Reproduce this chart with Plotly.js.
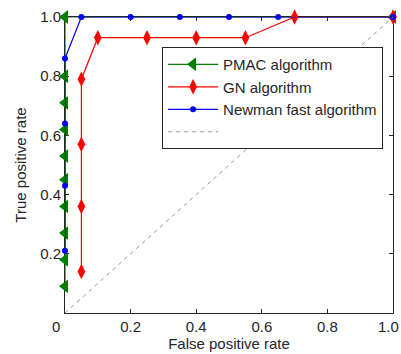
<!DOCTYPE html>
<html><head><meta charset="utf-8">
<script src="https://cdn.plot.ly/plotly-3.0.1.min.js"></script>
<style>html,body{margin:0;padding:0;background:#fff}#c{width:401px;height:354px}</style>
</head><body><div id="c"></div>
<script>
const pmacX = [0, 0, 0, 0, 0, 0, 0, 0, 0, 0, 1.0];
const pmacY = [0.09, 0.18, 0.27, 0.36, 0.45, 0.53, 0.62, 0.71, 0.80, 1.0, 1.0];
const gnX = [0.05, 0.05, 0.05, 0.05, 0.10, 0.25, 0.40, 0.55, 0.70, 1.0];
const gnY = [0.14, 0.36, 0.57, 0.79, 0.93, 0.93, 0.93, 0.93, 1.0, 1.0];
const nfX = [0, 0, 0, 0, 0.05, 0.20, 0.35, 0.50, 0.65, 1.0];
const nfY = [0.21, 0.43, 0.64, 0.86, 1.0, 1.0, 1.0, 1.0, 1.0, 1.0];
const diagX = [0, 1];
const diagY = [0, 1];
const names = ['PMAC algorithm', 'GN algorithm', 'Newman fast algorithm', ' '];
const tickVals = [0.2, 0.4, 0.6, 0.8, 1.0];
const yTickText = ['0.2', '0.4', '0.6', '0.8', '1.0'];
const xTickText = ['0.2', '0.4', '0.6', '0.8', ''];
const xEdgeLabels = ['0', '1.0'];

const txt = '#262626';
const FS = 15;
const traces = [
  {x: pmacX, y: pmacY, name: names[0], mode: 'lines+markers', cliponaxis: false,
   line: {color: '#008000', width: 1.2}, marker: {symbol: 'triangle-left', size: 12, color: '#008000'}},
  {x: gnX, y: gnY, name: names[1], mode: 'lines+markers', cliponaxis: false,
   line: {color: '#ff0000', width: 1.2}, marker: {symbol: 'diamond-tall', size: 11, color: '#ff0000'}},
  {x: nfX, y: nfY, name: names[2], mode: 'lines+markers', cliponaxis: false,
   line: {color: '#0000ff', width: 1.2}, marker: {symbol: 'circle', size: 6, color: '#0000ff'}},
  {x: diagX, y: diagY, name: names[3], mode: 'lines',
   line: {color: '#999999', width: 1, dash: '4px,4px'}}
];
const axBase = {
  range: [0, 1], showgrid: false, zeroline: false, showline: true, linecolor: '#262626', linewidth: 1,
  mirror: 'ticks', ticks: 'inside', ticklen: 4, tickcolor: '#262626', layer: 'below traces',
  tickvals: tickVals, tickfont: {family: 'Liberation Sans, Arial, sans-serif', size: FS, color: txt}
};
const layout = {
  width: 401, height: 354,
  margin: {l: 65, r: 8, t: 17, b: 41},
  paper_bgcolor: '#fff', plot_bgcolor: '#fff',
  font: {family: 'Liberation Sans, Arial, sans-serif', size: FS, color: txt},
  xaxis: Object.assign({}, axBase, {ticktext: xTickText, title: {text: 'False positive rate', standoff: 4, font: {size: FS, color: txt}}}),
  yaxis: Object.assign({}, axBase, {ticktext: yTickText, title: {text: 'True positive rate', standoff: 9, font: {size: FS, color: txt}}}),
  legend: {x: 0.296, y: 0.8985, xanchor: 'left', yanchor: 'top', bgcolor: '#fff', itemwidth: 50,
           bordercolor: '#262626', borderwidth: 1, font: {size: FS, color: txt}, tracegroupgap: 0},
  showlegend: true,
  annotations: [
    {x: 0, y: 0, xref: 'x', yref: 'paper', text: xEdgeLabels[0], showarrow: false,
     xanchor: 'center', yanchor: 'top', xshift: -9, yshift: -3, font: {size: FS, color: txt}},
    {x: 1, y: 0, xref: 'x', yref: 'paper', text: xEdgeLabels[1], showarrow: false,
     xanchor: 'right', yanchor: 'top', xshift: 8, yshift: -3, font: {size: FS, color: txt}}
  ]
};
Plotly.newPlot('c', traces, layout, {staticPlot: true, displayModeBar: false});
</script></body></html>
